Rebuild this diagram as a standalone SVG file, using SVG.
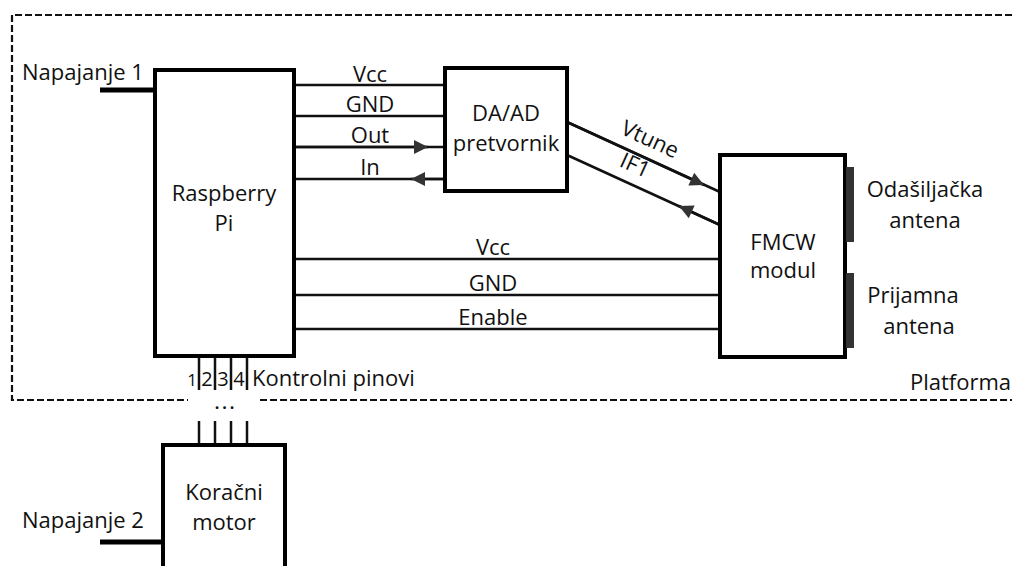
<svg xmlns="http://www.w3.org/2000/svg" width="1012" height="566" viewBox="0 0 1012 566">
<style>
text{font-family:"Open Sans","Noto Sans",sans-serif;font-size:22px;fill:#111}
.m{text-anchor:middle}
.box{fill:#fff;stroke:#000;stroke-width:4}
.w{stroke:#111;stroke-width:2.5;fill:none}
.pw{stroke:#000;stroke-width:5;fill:none}
.dash{stroke:#111;stroke-width:2.2;fill:none;stroke-dasharray:7 3}
.ant{fill:#333}
</style>
<defs>
<marker id="ah" viewBox="0 0 10 10" refX="10" refY="5" markerWidth="15" markerHeight="14" markerUnits="userSpaceOnUse" orient="auto">
<path d="M0,0 L10,5 L0,10 z" fill="#333"/>
</marker>
</defs>
<g id="platform">
<path class="dash" d="M1012,15 H12 V400 H188 M260,400 H1012"/>
<text x="910" y="390">Platforma</text>
<text x="226" y="409" class="m" style="font-weight:bold;font-size:16px;letter-spacing:3px">...</text>
</g>
<g id="connectors">
<line class="pw" x1="100" y1="90" x2="155" y2="90"/>
<line class="pw" x1="100" y1="542" x2="163" y2="542"/>
<line class="w" x1="294" y1="85" x2="445" y2="85"/>
<line class="w" x1="294" y1="116" x2="445" y2="116"/>
<line class="w" x1="294" y1="147" x2="445" y2="147"/>
<line class="w" x1="294" y1="179" x2="445" y2="179"/>
<line class="w" x1="294" y1="147" x2="428" y2="147" marker-end="url(#ah)"/>
<line class="w" x1="445" y1="179" x2="411" y2="179" marker-end="url(#ah)"/>
<line class="w" x1="567" y1="122" x2="720" y2="192"/>
<line class="w" x1="567" y1="122" x2="704" y2="185" marker-end="url(#ah)"/>
<line class="w" x1="567" y1="155" x2="720" y2="225"/>
<line class="w" x1="720" y1="225" x2="679" y2="206" marker-end="url(#ah)"/>
<line class="w" x1="294" y1="259" x2="720" y2="259"/>
<line class="w" x1="294" y1="295" x2="720" y2="295"/>
<line class="w" x1="294" y1="329" x2="720" y2="329"/>
<path class="w" d="M199,356 V390 M215,356 V390 M231,356 V390 M247,356 V390"/>
<path class="w" d="M199,421 V445 M215,421 V445 M231,421 V445 M247,421 V445"/>
<text x="370" y="82" class="m">Vcc</text>
<text x="370" y="112" class="m">GND</text>
<text x="370" y="143" class="m">Out</text>
<text x="370" y="175" class="m">In</text>
<text x="493" y="255" class="m">Vcc</text>
<text x="493" y="291" class="m">GND</text>
<text x="493" y="325" class="m">Enable</text>
<text x="647" y="146" class="m" transform="rotate(24.6 647 146)">Vtune</text>
<text x="632" y="172" class="m" transform="rotate(24.6 632 172)">IF1</text>
<text x="192" y="386" style="font-size:17px" class="m">1</text>
<text x="207" y="386" style="font-size:20px" class="m">2</text>
<text x="223" y="386" style="font-size:20px" class="m">3</text>
<text x="239" y="386" style="font-size:20px" class="m">4</text>
<text x="252" y="386">Kontrolni pinovi</text>
</g>
<g id="napajanje1"><text x="22" y="80">Napajanje 1</text></g>
<g id="napajanje2"><text x="22" y="528">Napajanje 2</text></g>
<g id="rpi">
<rect class="box" x="155" y="70" width="139" height="286"/>
<text x="224" y="201" class="m">Raspberry</text>
<text x="224" y="231" class="m">Pi</text>
</g>
<g id="daad">
<rect class="box" x="445" y="68" width="122" height="123"/>
<text x="506" y="121" class="m">DA/AD</text>
<text x="506" y="151" class="m">pretvornik</text>
</g>
<g id="fmcw">
<rect class="box" x="720" y="155" width="125" height="202"/>
<text x="783" y="250" class="m">FMCW</text>
<text x="783" y="278" class="m">modul</text>
</g>
<g id="tx-antenna">
<rect class="ant" x="846" y="167" width="8" height="75"/>
<text x="925" y="197" class="m">Odašiljačka</text>
<text x="925" y="228" class="m">antena</text>
</g>
<g id="rx-antenna">
<rect class="ant" x="846" y="273" width="8" height="75"/>
<text x="913" y="303" class="m">Prijamna</text>
<text x="919" y="334" class="m">antena</text>
</g>
<g id="motor">
<rect class="box" x="163" y="445" width="122" height="130"/>
<text x="224" y="500" class="m">Koračni</text>
<text x="224" y="530" class="m">motor</text>
</g>
</svg>
